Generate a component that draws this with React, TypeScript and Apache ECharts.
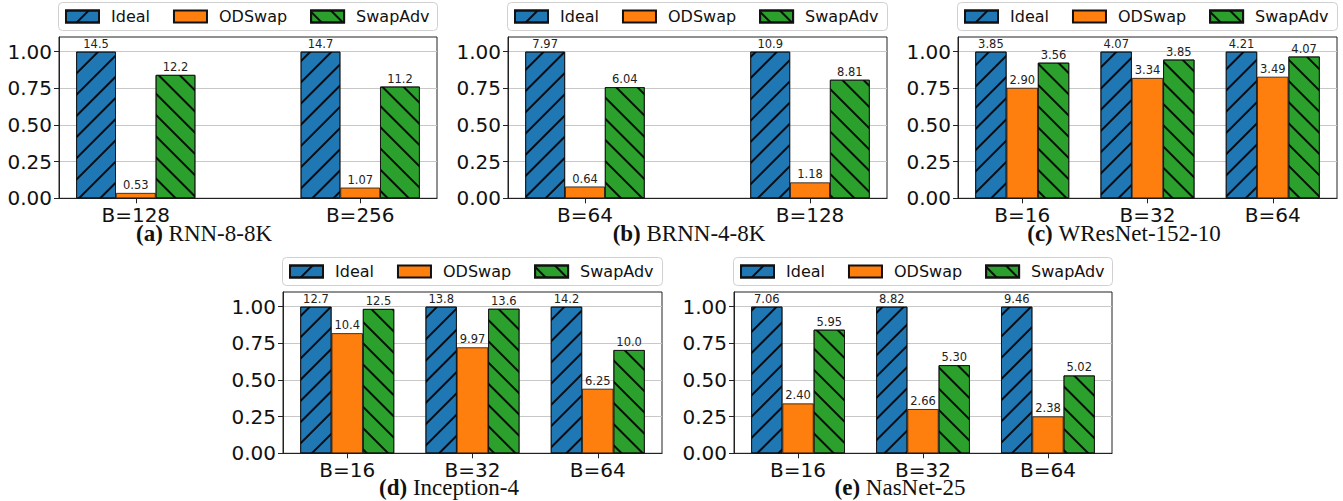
import React, { useEffect, useRef } from "react";
import * as echarts from "echarts";

const seriesNames = ["Ideal", "ODSwap", "SwapAdv"];
const seriesColors = ["#1f77b4", "#ff7f0e", "#2ca02c"];

const catsA = ["B=128", "B=256"];
const idealA = [14.5, 14.7];
const odswapA = [0.53, 1.07];
const swapadvA = [12.2, 11.2];

const catsB = ["B=64", "B=128"];
const idealB = [7.97, 10.9];
const odswapB = [0.64, 1.18];
const swapadvB = [6.04, 8.81];

const catsC = ["B=16", "B=32", "B=64"];
const idealC = [3.85, 4.07, 4.21];
const odswapC = [2.9, 3.34, 3.49];
const swapadvC = [3.56, 3.85, 4.07];

const catsD = ["B=16", "B=32", "B=64"];
const idealD = [12.7, 13.8, 14.2];
const odswapD = [10.4, 9.97, 6.25];
const swapadvD = [12.5, 13.6, 10.0];

const catsE = ["B=16", "B=32", "B=64"];
const idealE = [7.06, 8.82, 9.46];
const odswapE = [2.4, 2.66, 2.38];
const swapadvE = [5.95, 5.3, 5.02];

const yTicks = [0, 0.25, 0.5, 0.75, 1.0];

const panels = [
  { tag: "(a)", name: "RNN-8-8K", cats: catsA, values: [idealA, odswapA, swapadvA], left: 59, width: 378, top: 37, w: 0.177, tx: 204, ty: 233, ly: 2.5 },
  { tag: "(b)", name: "BRNN-4-8K", cats: catsB, values: [idealB, odswapB, swapadvB], left: 508, width: 379, top: 37, w: 0.177, tx: 689, ty: 233, ly: 2.5 },
  { tag: "(c)", name: "WResNet-152-10", cats: catsC, values: [idealC, odswapC, swapadvC], left: 958, width: 379, top: 37, w: 0.25, tx: 1124, ty: 233, ly: 2.5 },
  { tag: "(d)", name: "Inception-4", cats: catsD, values: [idealD, odswapD, swapadvD], left: 283, width: 379, top: 292, w: 0.25, tx: 449, ty: 487, ly: 257.5 },
  { tag: "(e)", name: "NasNet-25", cats: catsE, values: [idealE, odswapE, swapadvE], left: 734, width: 378, top: 292, w: 0.25, tx: 900, ty: 487, ly: 257.5 },
];

const GRID_H = 161.3;
const Y_MAX = 1.1;
const SERIF = "Liberation Serif";
const SUB_SIZE = 23;

const fmt = (v: number) => (v < 1 ? v.toFixed(2) : v.toPrecision(3));

const hatch = (rot: number) => ({
  symbol: "rect",
  symbolSize: 1,
  dashArrayX: [1, 0],
  dashArrayY: [1.2, 13],
  rotation: rot,
  color: "rgba(0,0,0,0.9)",
});
const decals: any[] = [hatch(-Math.PI / 4), null, hatch(Math.PI / 4)];

function measure(text: string, font: string) {
  const ctx = document.createElement("canvas").getContext("2d");
  if (!ctx) return text.length * 10;
  ctx.font = font;
  return ctx.measureText(text).width;
}

function buildOption() {
  const grid: any[] = [];
  const xAxis: any[] = [];
  const yAxis: any[] = [];
  const legend: any[] = [];
  const series: any[] = [];
  const graphic: any[] = [];

  panels.forEach((p, pi) => {
    const n = p.cats.length;
    const span = n - 1 + 3 * p.w;
    const xmin = -1.5 * p.w - 0.05 * span;
    const xmax = n - 1 + 1.5 * p.w + 0.05 * span;
    const pxPerUnit = p.width / (xmax - xmin);
    const catIdx = p.cats.map((_, k) => k);

    grid.push({
      left: p.left,
      top: p.top,
      width: p.width,
      height: GRID_H,
      show: true,
      borderColor: "#222",
      borderWidth: 1,
      backgroundColor: "transparent",
    });
    xAxis.push({
      type: "value",
      gridIndex: pi,
      min: xmin,
      max: xmax,
      axisLine: { show: true, onZero: false, lineStyle: { color: "#222", width: 1 } },
      axisTick: { show: true, customValues: catIdx, length: 5, lineStyle: { color: "#222" } },
      axisLabel: {
        customValues: catIdx,
        formatter: (v: number) => p.cats[Math.round(v)] ?? "",
        fontSize: 20,
        lineHeight: 16,
        color: "#111",
        margin: 8.5,
        fontFamily: "DejaVu Sans",
      },
      splitLine: { show: false },
    });
    yAxis.push({
      type: "value",
      gridIndex: pi,
      min: 0,
      max: Y_MAX,
      interval: 0.25,
      axisLine: { show: true, onZero: false, lineStyle: { color: "#222", width: 1 } },
      axisTick: { show: true, customValues: yTicks, length: 5, lineStyle: { color: "#222" } },
      axisLabel: {
        customValues: yTicks,
        formatter: (v: number) => v.toFixed(2),
        fontSize: 20,
        color: "#111",
        margin: 7,
        fontFamily: "DejaVu Sans",
      },
      splitLine: { show: true, lineStyle: { color: "#c8c8c8", width: 1 } },
    });
    legend.push({
      left: p.left + 6,
      top: p.ly + 6,
      data: seriesNames,
      icon: "rect",
      itemWidth: 33,
      itemHeight: 12,
      itemGap: 23,
      padding: 0,
      selectedMode: false,
      textStyle: {
        fontSize: 16,
        lineHeight: 16,
        color: "#111",
        fontFamily: "DejaVu Sans",
        padding: [0, 0, 0, 7],
      },
    });
    graphic.push({
      type: "rect",
      z: -1,
      shape: { x: p.left - 0.5, y: p.ly, width: p.width + 1, height: 28, r: 4 },
      style: { fill: "#fff", stroke: "#d0d0d0", lineWidth: 1 },
    });

    // subtitle: bold tag + regular name, centred as a whole
    const tagW = measure(p.tag, `bold ${SUB_SIZE}px "${SERIF}"`);
    const spaceW = measure(" ", `${SUB_SIZE}px "${SERIF}"`);
    const nameW = measure(p.name, `${SUB_SIZE}px "${SERIF}"`);
    const x0 = p.tx - (tagW + spaceW + nameW) / 2;
    graphic.push({
      type: "text",
      x: x0,
      y: p.ty,
      style: {
        text: p.tag,
        fontSize: SUB_SIZE,
        lineHeight: 18,
        fontWeight: "bold",
        fontFamily: SERIF,
        fill: "#111",
        align: "left",
        verticalAlign: "middle",
      },
    });
    graphic.push({
      type: "text",
      x: x0 + tagW + spaceW,
      y: p.ty,
      style: {
        text: p.name,
        fontSize: SUB_SIZE,
        lineHeight: 18,
        fontFamily: SERIF,
        fill: "#111",
        align: "left",
        verticalAlign: "middle",
      },
    });

    const ideal = p.values[0];
    seriesNames.forEach((name, si) => {
      const vals = p.values[si];
      series.push({
        type: "bar",
        name,
        xAxisIndex: pi,
        yAxisIndex: pi,
        barWidth: p.w * pxPerUnit,
        barGap: "-100%",
        itemStyle: {
          color: seriesColors[si],
          borderColor: "#111",
          borderWidth: 0.8,
          decal: decals[si] || undefined,
        },
        label: {
          show: true,
          position: "top",
          distance: 2,
          fontSize: 11.5,
          color: "#222",
          fontFamily: "DejaVu Sans",
          formatter: (prm: any) => fmt(vals[prm.dataIndex]),
        },
        data: vals.map((v, k) => [k + (si - 1) * p.w, v / ideal[k]]),
      });
    });
  });

  return {
    animation: false,
    textStyle: { fontFamily: "DejaVu Sans" },
    grid,
    xAxis,
    yAxis,
    legend,
    series,
    graphic,
  };
}

export default function App() {
  const ref = useRef<HTMLDivElement>(null);
  useEffect(() => {
    if (!ref.current) return;
    const chart = echarts.init(ref.current, undefined, { renderer: "svg" });
    chart.setOption(buildOption() as any);
    return () => chart.dispose();
  }, []);
  return (
    <div
      ref={ref}
      style={{ position: "fixed", left: 0, top: 0, width: 1343, height: 501, background: "#fff" }}
    />
  );
}
